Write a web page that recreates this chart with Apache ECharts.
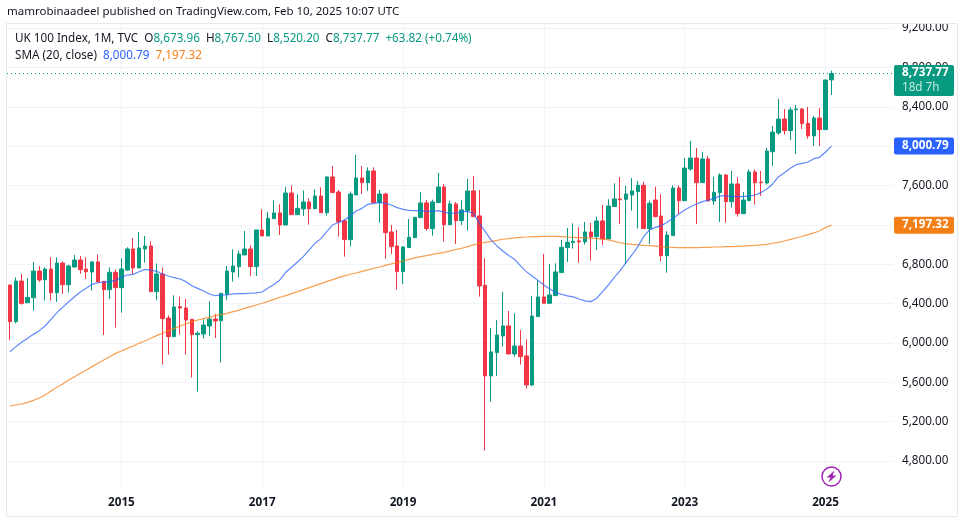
<!DOCTYPE html>
<html><head><meta charset="utf-8">
<style>html,body{margin:0;padding:0;background:#fff}#c{width:965px;height:522px}</style>
<script src="https://cdn.jsdelivr.net/npm/echarts@6/dist/echarts.min.js"></script>
</head><body><div id="c"></div>
<script>
const months = [
'2013-06','2013-07','2013-08','2013-09','2013-10','2013-11','2013-12',
'2014-01','2014-02','2014-03','2014-04','2014-05','2014-06','2014-07','2014-08','2014-09','2014-10','2014-11','2014-12',
'2015-01','2015-02','2015-03','2015-04','2015-05','2015-06','2015-07','2015-08','2015-09','2015-10','2015-11','2015-12',
'2016-01','2016-02','2016-03','2016-04','2016-05','2016-06','2016-07','2016-08','2016-09','2016-10','2016-11','2016-12',
'2017-01','2017-02','2017-03','2017-04','2017-05','2017-06','2017-07','2017-08','2017-09','2017-10','2017-11','2017-12',
'2018-01','2018-02','2018-03','2018-04','2018-05','2018-06','2018-07','2018-08','2018-09','2018-10','2018-11','2018-12',
'2019-01','2019-02','2019-03','2019-04','2019-05','2019-06','2019-07','2019-08','2019-09','2019-10','2019-11','2019-12',
'2020-01','2020-02','2020-03','2020-04','2020-05','2020-06','2020-07','2020-08','2020-09','2020-10','2020-11','2020-12',
'2021-01','2021-02','2021-03','2021-04','2021-05','2021-06','2021-07','2021-08','2021-09','2021-10','2021-11','2021-12',
'2022-01','2022-02','2022-03','2022-04','2022-05','2022-06','2022-07','2022-08','2022-09','2022-10','2022-11','2022-12',
'2023-01','2023-02','2023-03','2023-04','2023-05','2023-06','2023-07','2023-08','2023-09','2023-10','2023-11','2023-12',
'2024-01','2024-02','2024-03','2024-04','2024-05','2024-06','2024-07','2024-08','2024-09','2024-10','2024-11','2024-12',
'2025-01','2025-02','2025-03','2025-04','2025-05','2025-06','2025-07','2025-08','2025-09','2025-10','2025-11','2025-12'];
const yearTicks = ['2015-01','2017-01','2019-01','2021-01','2023-01','2025-01'];
const priceTicks = [4800,5200,5600,6000,6400,6800,7200,7600,8000,8400,8800,9200];

const opens = [6589,6216,6629,6409,6460,6731,6643,6751,6511,6812,6592,6772,6843,6751,6721,6823,6626,6541,6718,6562,
6741,6955,6762,6955,6985,6521,6701,6253,6064,6369,6355,6240,6084,6091,6172,6243,6226,6497,6721,6775,
6894,6955,6776,7148,7087,7263,7321,7199,7524,7304,7362,7433,7365,7494,7324,7687,7534,7240,7050,7504,
7677,7629,7748,7426,7514,7128,6986,6725,6969,7070,7274,7423,7162,7426,7585,7202,7413,7243,7345,7545,
7291,6586,5665,5902,6071,6173,5888,5969,5868,5573,6268,6467,6403,6481,6715,6969,7020,7037,7027,7128,
7081,7240,7057,7386,7463,7460,7504,7538,7602,7162,7453,7290,6887,7091,7575,7446,7768,7880,7629,7870,
7443,7528,7707,7436,7616,7314,7446,7738,7636,7626,7944,8134,8276,8158,8371,8378,8232,8104,8286,8168,8673.96];
const closes = [6216,6629,6402,6463,6731,6640,6751,6511,6812,6592,6782,6843,6745,6724,6823,6619,6541,6718,6562,6751,
6955,6762,6965,6985,6521,6701,6247,6064,6365,6355,6233,6084,6098,6182,6243,6223,6504,6731,6782,6904,
6955,6776,7148,7087,7267,7321,7199,7524,7304,7368,7433,7365,7494,7324,7687,7528,7230,7050,7514,7677,
7629,7748,7426,7514,7121,6979,6725,6975,7074,7277,7423,7162,7433,7585,7202,7413,7243,7352,7545,7284,
6579,5665,5909,6081,6173,5888,5969,5861,5573,6274,6467,6403,6488,6722,6972,7023,7033,7027,7128,7077,
7240,7057,7392,7464,7456,7514,7545,7602,7162,7419,7284,6887,7097,7575,7446,7778,7880,7629,7870,7443,
7531,7707,7436,7616,7314,7453,7738,7629,7629,7951,8144,8276,8158,8368,8378,8229,8104,8286,8168,8673,8737.77];
const highs = [6589,6667,6701,6660,6823,6782,6768,6870,6870,6829,6795,6894,6884,6870,6833,6900,6626,6768,6748,6860,
6972,7066,7127,7087,7036,6809,6768,6280,6484,6470,6446,6240,6118,6240,6423,6294,6504,6782,6951,6938,
7138,6992,7148,7358,7331,7450,7409,7585,7602,7511,7551,7470,7562,7582,7694,7799,7555,7257,7538,7911,
7799,7785,7785,7555,7528,7199,7148,6986,7260,7277,7534,7453,7457,7728,7616,7443,7433,7453,7667,7697,
7555,6861,6152,6234,6518,6325,6302,6132,6037,6478,6634,6905,6803,6810,7047,7169,7216,7176,7230,7223,
7284,7403,7460,7623,7687,7595,7677,7646,7639,7446,7589,7511,7135,7602,7602,7880,8053,7982,7941,7900,
7690,7724,7717,7748,7683,7534,7765,7765,7748,7982,8205,8480,8378,8395,8419,8388,8398,8307,8388,8673,8767.5];
const lows = [6030,6199,6389,6409,6328,6623,6430,6430,6416,6497,6511,6768,6704,6650,6531,6619,6080,6446,6155,6308,
6734,6701,6762,6816,6521,6436,5779,5881,6064,6084,5881,5647,5505,6043,6070,6050,5799,6436,6623,6667,
6894,6681,6681,7087,7087,7263,7097,7199,7304,7304,7291,7202,7365,7324,7294,7528,7080,6877,6979,7504,
7514,7545,7426,7223,6857,6904,6542,6599,6969,7070,7274,7141,7091,7426,7030,7202,7006,7199,7142,7284,
6471,4906,5404,5665,5963,5888,5861,5780,5536,5563,6268,6403,6403,6481,6715,6823,6959,6816,6999,6837,
6945,6996,7057,7386,7209,6802,7345,7162,7162,7006,7277,6833,6714,7091,7311,7446,7751,7209,7629,7443,
7402,7229,7223,7375,7284,7314,7446,7406,7494,7609,7799,8117,8117,8063,7921,8175,8076,8002,8002,8168,8520.2];

const sma20 = [5911,5962,6006,6047,6087,6125,6172,6240,6308,6362,6419,6470,6518,6555,6596,6612,6619,6623,6636,6667,
6690,6697,6724,6748,6741,6728,6701,6680,6663,6650,6623,6582,6555,6528,6497,6480,6487,6488,6498,6501,
6501,6505,6508,6518,6559,6593,6640,6718,6769,6823,6877,6945,7013,7060,7131,7199,7226,7250,7291,7341,
7368,7409,7419,7429,7419,7402,7375,7358,7348,7345,7345,7338,7338,7345,7328,7318,7318,7335,7335,7318,
7216,7132,7047,6986,6935,6888,6850,6786,6725,6681,6634,6589,6549,6512,6495,6478,6468,6447,6427,6420,
6454,6522,6589,6667,6735,6816,6894,6979,7080,7148,7175,7192,7226,7267,7311,7351,7385,7412,7436,7450,
7470,7494,7494,7490,7487,7487,7494,7504,7528,7565,7616,7690,7731,7775,7812,7826,7839,7873,7887,7941,8000.79];
const sma200 = [5359,5369,5379,5396,5416,5440,5471,5511,5549,5583,5623,5657,5691,5725,5759,5793,5827,5860,5894,5918,
5945,5969,5996,6020,6047,6074,6098,6125,6148,6172,6192,6216,6233,6247,6260,6277,6287,6301,6318,6331,
6352,6369,6386,6403,6423,6443,6464,6481,6501,6521,6542,6562,6582,6603,6623,6643,6664,6681,6698,6711,
6728,6742,6759,6772,6789,6803,6816,6833,6850,6864,6877,6887,6901,6911,6921,6935,6950,6962,6979,6996,
7013,7023,7033,7043,7054,7060,7067,7074,7077,7081,7081,7084,7084,7084,7081,7077,7074,7071,7067,7064,
7060,7054,7047,7033,7018,7009,7002,6996,6992,6989,6985,6979,6975,6972,6969,6969,6969,6969,6972,6972,
6975,6975,6979,6979,6982,6985,6989,6992,6996,7002,7013,7023,7036,7053,7067,7084,7101,7118,7141,7172,7197.32];

const publishLine = 'mamrobinaadeel published on TradingView.com, Feb 10, 2025 10:07 UTC';
const legendLine1 = '{k|UK 100 Index, 1M, TVC  O}{g|8,673.96}{k|  H}{g|8,767.50}{k|  L}{g|8,520.20}{k|  C}{g|8,737.77}{g|  +63.82 (+0.74%)}';
const legendLine2 = '{k|SMA (20, close)  }{b|8,000.79}{o|  7,197.32}';
const lastClose = 8737.77, lastBlue = 8000.79, lastOrange = 7197.32, countdown = '18d 7h';

const UP='#089981', DOWN='#F23645', BLUE='#2962FF', ORANGE='#F57F17', GRID='#f0f3fa', INK='#131722';
const FONT='"Noto Sans", sans-serif';
const fmt = v => v.toLocaleString('en-US',{minimumFractionDigits:2,maximumFractionDigits:2});
const candles = opens.map((o,i)=>[o,closes[i],lows[i],highs[i]]);
const isYearTick = (i,v)=>yearTicks.includes(v);

function tag(value,color){
  return {
    symbol:'none', silent:true, animation:false,
    lineStyle:{color:'transparent',width:0},
    data:[{yAxis:value,
      label:{show:true,position:'end',distance:1,formatter:fmt(value),
        color:'#fff',fontFamily:FONT,fontSize:11.7,fontWeight:'bold',
        backgroundColor:color,borderRadius:2,width:52,height:17,lineHeight:17,padding:[0,0,0,8],align:'left'}}]
  };
}

const chart = echarts.init(document.getElementById('c'),null,{renderer:'canvas'});
chart.setOption({
  animation:false,
  backgroundColor:'#fff',
  grid:{left:7,right:72,top:24,bottom:32},
  xAxis:{type:'category',data:months,boundaryGap:true,
    axisLine:{show:false},axisTick:{show:false},
    axisLabel:{interval:isYearTick,formatter:v=>v.slice(0,4),margin:7,
      color:INK,fontFamily:FONT,fontSize:11.7,fontWeight:'bold'},
    splitLine:{show:true,alignWithLabel:true,interval:isYearTick,lineStyle:{color:GRID,width:1}}},
  yAxis:{type:'value',position:'right',min:4505,max:9242,scale:true,
    axisLine:{show:false},
    axisTick:{show:false,customValues:priceTicks},
    axisLabel:{customValues:priceTicks,formatter:v=>fmt(v),margin:9,color:INK,fontFamily:FONT,fontSize:11.7},
    splitLine:{show:true,lineStyle:{color:GRID,width:1}}},
  series:[
    {name:'SMA 200',type:'line',data:sma200,symbol:'none',z:3,lineStyle:{color:ORANGE,width:1.2,opacity:.75},markLine:tag(lastOrange,ORANGE)},
    {name:'SMA 20',type:'line',data:sma20,symbol:'none',z:4,lineStyle:{color:BLUE,width:1.2,opacity:.75},markLine:tag(lastBlue,BLUE)},
    {name:'UK 100',type:'candlestick',data:candles,barWidth:4,z:2,
      itemStyle:{color:UP,color0:DOWN,borderColor:UP,borderColor0:DOWN,borderWidth:1},
      markLine:{symbol:'none',silent:true,animation:false,
        lineStyle:{color:UP,type:[1,3],width:1},
        data:[{yAxis:lastClose,label:{show:true,position:'end',distance:1,offset:[0,7],
          formatter:'{p|'+fmt(lastClose)+'}\n{t|'+countdown+'}',
          backgroundColor:UP,borderRadius:2,width:52,padding:[0,0,0,8],align:'left',
          rich:{p:{color:'#fff',fontFamily:FONT,fontSize:11.7,fontWeight:'bold',lineHeight:15,height:15},
                t:{color:'#c4e9df',fontFamily:FONT,fontSize:11.7,lineHeight:16,height:16}}}}]}}
  ],
  graphic:[
    {type:'rect',z:50,silent:true,shape:{x:0,y:0,width:965,height:23},style:{fill:'#fff'}},
    {type:'rect',z:51,silent:true,shape:{x:6.5,y:23.5,width:951,height:493},style:{fill:'none',stroke:'#e6e8ee',lineWidth:1}},
    {type:'text',z:52,silent:true,x:7,y:12,style:{text:publishLine,fill:INK,font:'11.5px '+FONT,verticalAlign:'middle'}},
    {type:'text',z:52,silent:true,x:15,y:39,style:{text:legendLine1,verticalAlign:'middle',
      rich:{k:{fill:INK,font:'11.7px '+FONT},g:{fill:UP,font:'11.7px '+FONT}}}},
    {type:'text',z:52,silent:true,x:15,y:56,style:{text:legendLine2,verticalAlign:'middle',
      rich:{k:{fill:INK,font:'11.7px '+FONT},b:{fill:BLUE,font:'11.7px '+FONT},o:{fill:ORANGE,font:'11.7px '+FONT}}}},
    {type:'circle',z:52,silent:true,shape:{cx:831.5,cy:476.5,r:9.5},style:{fill:'#fff',stroke:'#9C27B0',lineWidth:1.5}},
    {type:'polygon',z:53,silent:true,shape:{points:[[834.5,470.5],[826.5,477.5],[830.5,477.5],[828.5,482.5],[836.5,475.5],[832.5,475.5]]},style:{fill:'#9C27B0'}}
  ]
});
</script></body></html>
